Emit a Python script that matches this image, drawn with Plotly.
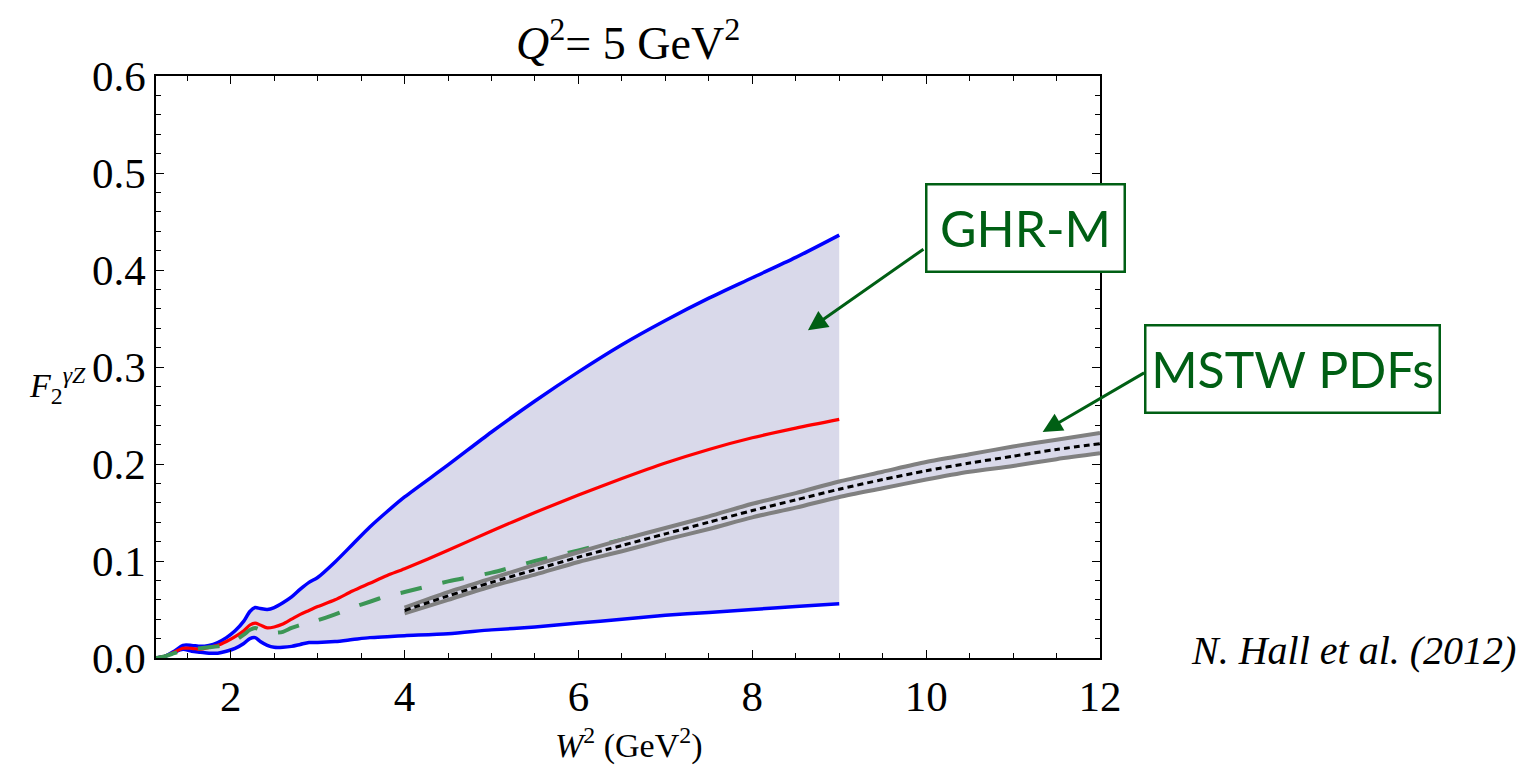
import plotly.graph_objects as go

# ---------------- data ----------------
ghr_w2 = [1.14, 1.25, 1.35, 1.45, 1.55, 1.65, 1.75, 1.85, 1.95, 2.05, 2.15, 2.22, 2.28, 2.34,
          2.42, 2.5, 2.6, 2.7, 2.8, 2.9, 3.0, 3.2, 3.4, 3.6, 3.8, 4.0, 4.5, 5.0, 5.5, 6.0,
          6.5, 7.0, 7.5, 8.0, 8.5, 9.0]
ghr_upper = [0.0, 0.002, 0.007, 0.013, 0.013, 0.012, 0.013, 0.016, 0.021, 0.028, 0.038, 0.048,
             0.052, 0.051, 0.050, 0.052, 0.057, 0.063, 0.071, 0.078, 0.083, 0.099, 0.117, 0.135,
             0.151, 0.166, 0.199, 0.233, 0.265, 0.295, 0.323, 0.348, 0.371, 0.392, 0.413, 0.436]
ghr_central = [0.0, 0.002, 0.006, 0.010, 0.010, 0.009, 0.011, 0.013, 0.017, 0.022, 0.028, 0.034,
               0.036, 0.034, 0.031, 0.032, 0.035, 0.040, 0.045, 0.049, 0.053, 0.060, 0.069, 0.077,
               0.085, 0.092, 0.111, 0.131, 0.150, 0.168, 0.185, 0.201, 0.215, 0.227, 0.237, 0.246]
ghr_lower = [0.0, 0.002, 0.006, 0.009, 0.007, 0.006, 0.005, 0.005, 0.007, 0.010, 0.015, 0.020,
             0.021, 0.017, 0.013, 0.011, 0.011, 0.012, 0.014, 0.016, 0.016, 0.017, 0.019, 0.021,
             0.022, 0.023, 0.025, 0.029, 0.032, 0.036, 0.040, 0.044, 0.047, 0.050, 0.053, 0.056]
green_dashed = [0.0, 0.002, 0.005, 0.008, 0.009, 0.010, 0.011, 0.012, 0.014, 0.018, 0.024, 0.029,
                0.031, 0.029, 0.027, 0.026, 0.027, 0.031, 0.034, 0.037, 0.039, 0.045, 0.052, 0.058,
                0.064, 0.068, 0.079, 0.088, 0.100, 0.111, 0.122, 0.133, 0.143, 0.152, 0.161, 0.170]

mstw_w2 = [4.0, 4.5, 5.0, 5.5, 6.0, 6.5, 7.0, 7.5, 8.0, 8.5, 9.0, 9.5, 10.0, 10.5, 11.0, 11.5, 12.0]
mstw_central = [0.049, 0.064, 0.078, 0.091, 0.104, 0.116, 0.128, 0.140, 0.152, 0.163, 0.174,
                0.184, 0.193, 0.201, 0.208, 0.215, 0.221]
mstw_upper = [0.052, 0.068, 0.082, 0.096, 0.109, 0.122, 0.134, 0.146, 0.159, 0.170, 0.182,
              0.192, 0.202, 0.210, 0.218, 0.225, 0.232]
mstw_lower = [0.046, 0.060, 0.074, 0.086, 0.099, 0.110, 0.122, 0.133, 0.145, 0.155, 0.166,
              0.175, 0.184, 0.192, 0.198, 0.205, 0.211]

x_ticks = [2, 4, 6, 8, 10, 12]
y_ticks = [0.0, 0.1, 0.2, 0.3, 0.4, 0.5, 0.6]

# ---------------- styles ----------------
BAND = "rgb(217,217,234)"
BLUE = "rgb(0,0,255)"
RED = "rgb(255,0,0)"
GREEN_D = "rgb(60,150,85)"
GRAY = "rgb(128,128,128)"
DKGREEN = "rgb(0,95,20)"
SERIF = "Liberation Serif"

fig = go.Figure()
sp = dict(shape="spline", smoothing=0.8)

# GHR-M band fill
fig.add_trace(go.Scatter(x=ghr_w2, y=ghr_lower, mode="lines", line=dict(width=0, **sp),
                         showlegend=False, hoverinfo="skip"))
fig.add_trace(go.Scatter(x=ghr_w2, y=ghr_upper, mode="lines", line=dict(width=0, **sp),
                         fill="tonexty", fillcolor=BAND, showlegend=False, hoverinfo="skip"))
# GHR-M lines
fig.add_trace(go.Scatter(x=ghr_w2, y=ghr_upper, mode="lines", line=dict(color=BLUE, width=3.5, **sp),
                         showlegend=False))
fig.add_trace(go.Scatter(x=ghr_w2, y=ghr_lower, mode="lines", line=dict(color=BLUE, width=3.5, **sp),
                         showlegend=False))
fig.add_trace(go.Scatter(x=ghr_w2, y=ghr_central, mode="lines", line=dict(color=RED, width=3.2, **sp),
                         showlegend=False))
fig.add_trace(go.Scatter(x=ghr_w2, y=green_dashed, mode="lines",
                         line=dict(color=GREEN_D, width=4, dash="22px,21px", **sp),
                         showlegend=False))

# MSTW band
fig.add_trace(go.Scatter(x=mstw_w2, y=mstw_lower, mode="lines", line=dict(color=GRAY, width=4, **sp),
                         showlegend=False))
fig.add_trace(go.Scatter(x=mstw_w2, y=mstw_upper, mode="lines", line=dict(color=GRAY, width=4, **sp),
                         fill="tonexty", fillcolor=BAND, showlegend=False))
fig.add_trace(go.Scatter(x=mstw_w2, y=mstw_central, mode="lines",
                         line=dict(color="black", width=3, dash="6px,4px", **sp),
                         showlegend=False))

axis_common = dict(showgrid=False, zeroline=False, showline=True, linecolor="black", linewidth=1.5,
                   mirror="allticks", ticks="inside", ticklen=8, tickwidth=1.2, tickcolor="black",
                   tickfont=dict(family=SERIF, size=43, color="black"))

fig.update_xaxes(range=[1.14, 12], tickvals=x_ticks, ticktext=[str(v) for v in x_ticks],
                 minor=dict(dtick=0.5, tick0=0, ticks="inside", ticklen=5, tickcolor="black", tickwidth=1),
                 **axis_common)
fig.update_yaxes(range=[0, 0.6], tickvals=y_ticks, ticktext=[f"{v:.1f}" for v in y_ticks],
                 minor=dict(dtick=0.02, tick0=0, ticks="inside", ticklen=5, tickcolor="black", tickwidth=1),
                 **axis_common)

L, R, T, B = 156, 425, 76, 112
W, H = 1525, 770
PW, PH = W - L - R, H - T - B


def px(xp):
    return (xp - L) / PW


def py(yp):
    return (H - B - yp) / PH


annotations = [
    dict(text="<i>Q</i><sup>2</sup>= 5 GeV<sup>2</sup>", x=px(628), y=py(40), xref="paper", yref="paper",
         showarrow=False, font=dict(family=SERIF, size=46, color="black"), xanchor="center", yanchor="middle"),
    dict(text="<i>W</i><sup>2</sup> (GeV<sup>2</sup>)", x=px(629), y=py(743), xref="paper", yref="paper",
         showarrow=False, font=dict(family=SERIF, size=34, color="black"), xanchor="center", yanchor="middle"),
    dict(text="<i>F</i><sub>2</sub><sup><i>γZ</i></sup>", x=px(57), y=py(385), xref="paper", yref="paper",
         showarrow=False, font=dict(family=SERIF, size=34, color="black"), xanchor="center", yanchor="middle"),
    dict(text="<i>N. Hall et al. (2012)</i>", x=px(1518), y=py(650), xref="paper", yref="paper",
         showarrow=False, font=dict(family=SERIF, size=40, color="black"), xanchor="right", yanchor="middle"),
    # GHR-M label box
    dict(text="GHR-M", x=px(1025), y=py(228), xref="paper", yref="paper", showarrow=False,
         font=dict(family="Lato", size=50, color=DKGREEN), bordercolor=DKGREEN, borderwidth=2.5,
         bgcolor="white", width=194, height=83, xanchor="center", yanchor="middle"),
    # MSTW label box
    dict(text="MSTW PDFs", x=px(1292), y=py(369), xref="paper", yref="paper", showarrow=False,
         font=dict(family="Lato", size=50, color=DKGREEN), bordercolor=DKGREEN, borderwidth=2.5,
         bgcolor="white", width=290, height=83, xanchor="center", yanchor="middle"),
    # arrows
    dict(x=8.64, y=0.338, xref="x", yref="y", ax=117, ay=-82, showarrow=True, arrowhead=2,
         arrowsize=1.3, arrowwidth=3, arrowcolor=DKGREEN, text=""),
    dict(x=11.34, y=0.233, xref="x", yref="y", ax=103, ay=-60, showarrow=True, arrowhead=2,
         arrowsize=1.3, arrowwidth=3, arrowcolor=DKGREEN, text=""),
]

fig.update_layout(width=W, height=H, margin=dict(l=L, r=R, t=T, b=B),
                  plot_bgcolor="white", paper_bgcolor="white", showlegend=False,
                  annotations=annotations)

fig.write_html("out.html")
